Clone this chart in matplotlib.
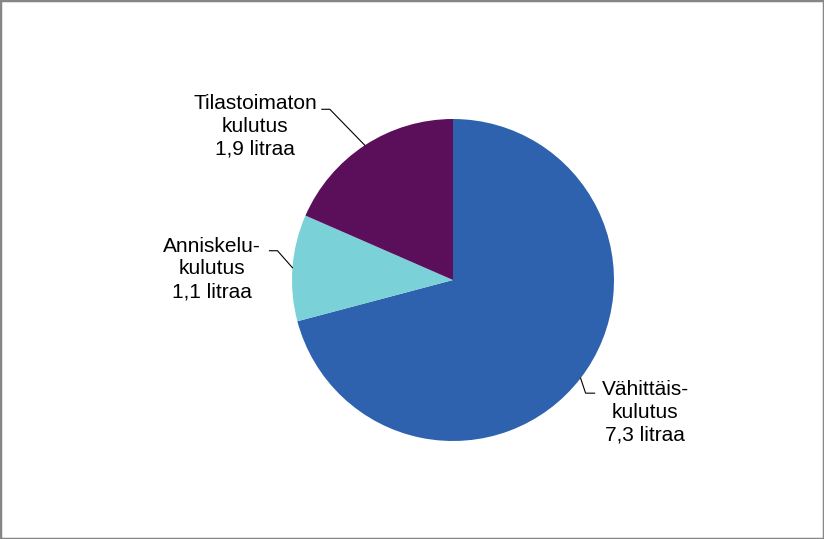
import numpy as np
import matplotlib.pyplot as plt

labels = ["Vähittäis-\nkulutus\n7,3 litraa",
          "Anniskelu-\nkulutus\n1,1 litraa",
          "Tilastoimaton\nkulutus\n1,9 litraa"]
values = [7.3, 1.1, 1.9]
colors = ["#2E62AE", "#7BD1D8", "#5B0F5B"]

plt.rcParams['font.family'] = ['Liberation Sans', 'DejaVu Sans']

W, H = 824, 539
fig = plt.figure(figsize=(W / 100, H / 100), dpi=100)
ax = fig.add_axes([0, 0, 1, 1])

cx, cy, r = 453, H - 280, 161
wedges, _ = ax.pie(values, colors=colors, startangle=90, counterclock=False,
                   center=(cx, cy), radius=r, frame=True,
                   wedgeprops=dict(linewidth=0))
ax.set_xlim(0, W)
ax.set_ylim(0, H)
ax.set_aspect('equal')
ax.axis('off')

# label placement: (elbow offset dx, dy from edge point, text x, text y, side)
label_pos = [
    (5, -15, 645, H - 412, 'left'),
    (-15, 17, 212, H - 269, 'right'),
    (-35, 36, 255, H - 126, 'right'),
]

for w, lab, (dx, dy, tx, ty, side) in zip(wedges, labels, label_pos):
    mid = np.deg2rad((w.theta1 + w.theta2) / 2)
    ex, ey = cx + r * np.cos(mid), cy + r * np.sin(mid)
    bx, by = ex + dx, ey + dy
    hx = bx + (9 if side == 'left' else -8)
    ax.plot([ex, bx, hx], [ey, by, by], color='black', lw=0.8,
            solid_joinstyle='miter')
    ax.text(tx, ty, lab, ha='center', va='center', fontsize=15,
            linespacing=1.24, color='black')

fig.patches.append(plt.Rectangle((0, 0), 1, 1, transform=fig.transFigure,
                                 fill=False, edgecolor='#868686', lw=2.5))

fig.savefig('out.png', dpi=100)
